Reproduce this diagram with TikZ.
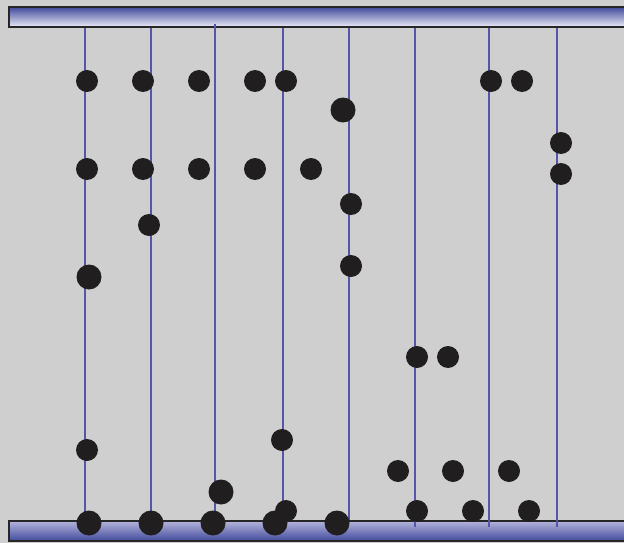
\documentclass[tikz,border=0pt]{standalone}
\usepackage{tikz}
\usepackage{xcolor}
\usetikzlibrary{positioning, shadings}
\definecolor{paper}{HTML}{D0CFD0}
\definecolor{rail}{HTML}{5555AA}
\definecolor{bead}{HTML}{201E1E}
\definecolor{barDark}{HTML}{404A9C}
\definecolor{barLight}{HTML}{ECECF6}
\definecolor{barMid}{HTML}{B4B4DA}

\begin{document}
\begin{tikzpicture}[x=1pt, y=-1pt,
  dot/.style={circle, fill=bead, inner sep=0pt, minimum size=22pt},
  bigdot/.style={dot, minimum size=25pt},
  wire/.style={rail, line width=2pt},
  plate/.style={draw=black!85, line width=2pt}
]
  \useasboundingbox[fill=paper] (0,0) rectangle (624,543);

  % top and bottom plates
  \path[plate, top color=barDark, middle color=barDark!65!barLight, bottom color=barLight] (9,7) rectangle (630,27);
  \path[plate, top color=barMid, middle color=barDark!75!barMid, bottom color=barDark] (9,521) rectangle (630,541);

  % wires
  \coordinate (t1) at (85,28);   \coordinate (b1) at (85,520);
  \coordinate (t2) at (151,28);  \coordinate (b2) at (151,520);
  \coordinate (t3) at (215,24);  \coordinate (b3) at (215,520);
  \coordinate (t4) at (283,28);  \coordinate (b4) at (283,515);
  \coordinate (t5) at (349,28);  \coordinate (b5) at (349,520);
  \coordinate (t6) at (415,28);  \coordinate (b6) at (415,527);
  \coordinate (t7) at (489,28);  \coordinate (b7) at (489,527);
  \coordinate (t8) at (557,28);  \coordinate (b8) at (557,527);
  \draw[wire] (t1) -- (b1);
  \draw[wire] (t2) -- (b2);
  \draw[wire] (t3) -- (b3);
  \draw[wire] (t4) -- (b4);
  \draw[wire] (t5) -- (b5);
  \draw[wire] (t6) -- (b6);
  \draw[wire] (t7) -- (b7);
  \draw[wire] (t8) -- (b8);

  % first row
  \node[dot] (a1) at (87,81) {};
  \node[dot] (a2) at (143,81) {};
  \node[dot] (a3) at (199,81) {};
  \node[dot] (a4) at (255,81) {};
  \node[dot] (a5) at (286,81) {};
  \node[dot] (a6) at (491,81) {};
  \node[dot] (a7) at (522,81) {};
  \node[bigdot] (a8) at (343,110) {};
  \node[dot] (a9) at (561,143) {};
  \node[dot] (a10) at (561,174) {};

  % second row
  \node[dot] (c1) at (87,169) {};
  \node[dot] (c2) at (143,169) {};
  \node[dot] (c3) at (199,169) {};
  \node[dot] (c4) at (255,169) {};
  \node[dot] (c5) at (311,169) {};
  \node[dot] (c6) at (351,204) {};
  \node[dot] (c7) at (149,225) {};
  \node[bigdot] (c8) at (89,277) {};
  \node[dot] (c9) at (351,266) {};

  % middle
  \node[dot] (m1) at (417,357) {};
  \node[dot] (m2) at (448,357) {};
  \node[dot] (m3) at (87,450) {};
  \node[dot] (m4) at (282,440) {};
  \node[dot] (m5) at (398,471) {};
  \node[dot] (m6) at (453,471) {};
  \node[dot] (m7) at (509,471) {};
  \node[bigdot] (m8) at (221,492) {};

  % bottom row
  \node[dot] (d1) at (286,511) {};
  \node[bigdot] (d2) at (89,523) {};
  \node[bigdot] (d3) at (151,523) {};
  \node[bigdot] (d4) at (213,523) {};
  \node[bigdot] (d5) at (275,523) {};
  \node[bigdot] (d6) at (337,523) {};
  \node[dot] (d7) at (417,511) {};
  \node[dot] (d8) at (473,511) {};
  \node[dot] (d9) at (529,511) {};
\end{tikzpicture}
\end{document}
